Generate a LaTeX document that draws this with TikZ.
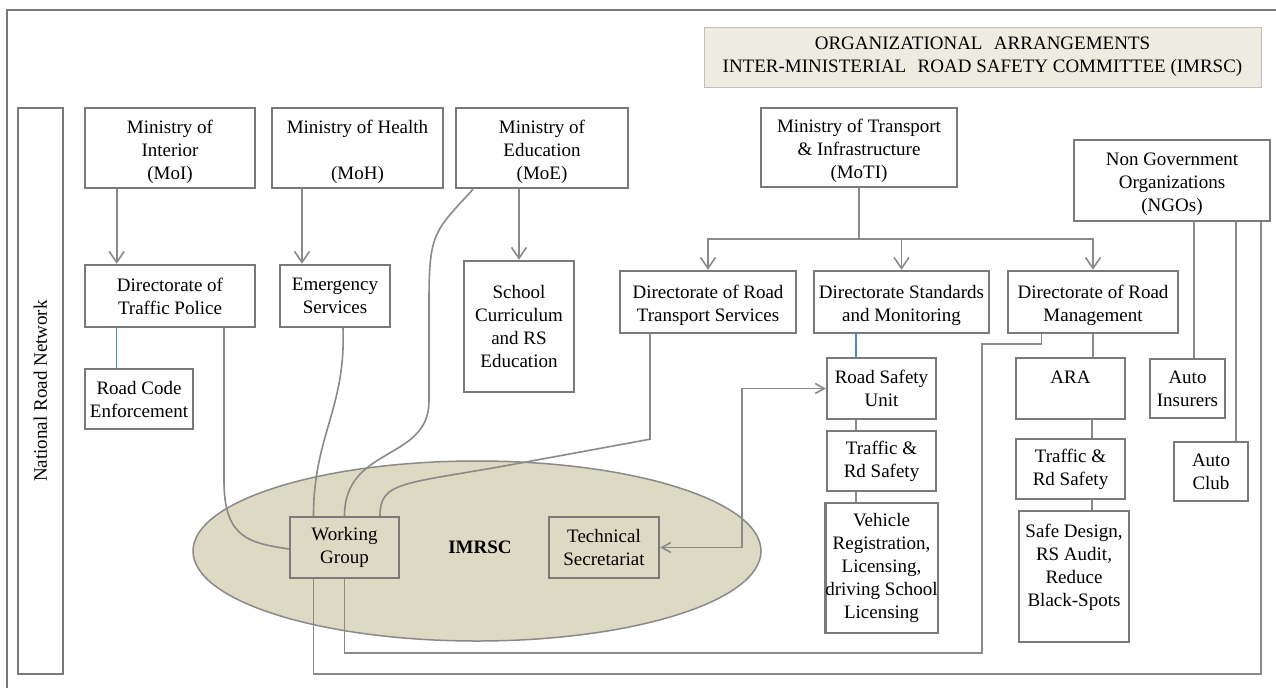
\documentclass[tikz,border=0pt]{standalone}
\usepackage{fontspec}
\setmainfont{Liberation Serif}
\usetikzlibrary{arrows.meta,shapes.geometric}
\definecolor{boxgray}{HTML}{7A7A7A}
\definecolor{linegray}{HTML}{8A8A8A}
\definecolor{beige}{HTML}{DDD9C3}
\definecolor{titlefill}{HTML}{EEECE1}
\definecolor{titleline}{HTML}{BFBFBF}
\definecolor{lineblue}{HTML}{4A86D0}
\newcommand{\diafont}{\fontsize{19}{23}\selectfont}
\newcommand{\lowr}{\rule{0pt}{21pt}}
\begin{document}
\begin{tikzpicture}[x=1pt,y=-1pt,
  box/.style={draw=boxgray, line width=2.4pt, fill=white, align=center, inner sep=0pt, font=\diafont},
  conn/.style={draw=linegray, line width=1.6pt},
  blueconn/.style={draw=lineblue, line width=1.5pt},
  arrowed/.style={-{Straight Barb[length=11pt,width=15pt]}},
  twoarrows/.style={{Straight Barb[length=9pt,width=10pt]}-{Straight Barb[length=9pt,width=10pt]}}]
\useasboundingbox (0,0) rectangle (1276,688);
\fill[white] (0,0) rectangle (1276,688);
% outer frame (left and top visible)
\draw[boxgray, line width=2pt] (7,688) -- (7,10) -- (1276,10);
% title
\node[box, draw=titleline, line width=1pt, fill=titlefill, minimum width=557pt, minimum height=60pt] (title) at (982.5,57)
  {ORGANIZATIONAL\hspace{0.6em}ARRANGEMENTS\\INTER-MINISTERIAL\hspace{0.6em}ROAD SAFETY COMMITTEE (IMRSC)};
% ellipse
\node[ellipse, draw=linegray, line width=1.5pt, fill=beige, minimum width=568pt, minimum height=180pt, inner sep=0pt] (ell) at (477,551) {};
\node[font=\diafont\bfseries] (imt) at (480,547) {IMRSC};
% national road network
\node[box, minimum width=45pt, minimum height=566pt] (nrn) at (40.5,391) {};
\node[rotate=90, font=\diafont] (nrnt) at (nrn.center) {National Road Network};
% ministries
\node[box, minimum width=170pt, minimum height=80pt] (moi) at (170,148) {\lowr Ministry of\\Interior\\(MoI)};
\node[box, minimum width=171pt, minimum height=80pt] (moh) at (357.5,148) {\lowr Ministry of Health\\[0pt]\mbox{}\\(MoH)};
\node[box, minimum width=172pt, minimum height=80pt] (moe) at (542,148) {\lowr Ministry of\\Education\\(MoE)};
\node[box, minimum width=196pt, minimum height=79pt] (moti) at (859,147.5) {\lowr Ministry of Transport\\\& Infrastructure\\(MoTI)};
\node[box, minimum width=196pt, minimum height=81pt] (ngo) at (1172,180.5) {\lowr Non Government\\Organizations\\(NGOs)};
% second level
\node[box, minimum width=170pt, minimum height=62pt] (dtp) at (170,296) {Directorate of\\Traffic Police};
\node[box, minimum width=110pt, minimum height=62pt] (ems) at (335,296) {Emergency\\Services};
\node[box, minimum width=110pt, minimum height=131pt] (school) at (519,326.5) {School\\Curriculum\\and RS\\Education};
\node[box, minimum width=176pt, minimum height=62pt] (drts) at (708,302) {\lowr Directorate of Road\\Transport Services};
\node[box, minimum width=175pt, minimum height=62pt] (dsm) at (901.5,302) {\lowr Directorate Standards\\and Monitoring};
\node[box, minimum width=170pt, minimum height=62pt] (drm) at (1093,302) {\lowr Directorate of Road\\Management};
% third level
\node[box, minimum width=108pt, minimum height=60pt] (rce) at (139,399) {Road Code\\Enforcement};
\node[box, minimum width=109pt, minimum height=61pt] (rsu) at (881.5,388.5) {Road Safety\\Unit};
\node[box, minimum width=109pt, minimum height=60pt] (trsa) at (881.5,461) {Traffic \&\\Rd Safety};
\node[box, minimum width=109pt, minimum height=130pt] (vrl) at (881.5,568) {Vehicle\\Registration,\\Licensing,\\driving School\\Licensing};
\node[box, minimum width=109pt, minimum height=61pt] (ara) at (1070.5,388.5) {ARA\\[0pt]\mbox{}};
\node[box, minimum width=109pt, minimum height=60pt] (trsb) at (1070.5,469) {Traffic \&\\Rd Safety};
\node[box, minimum width=110pt, minimum height=131pt] (sd) at (1074,576.5) {\fontsize{19}{22}\selectfont Safe Design,\\RS Audit,\\Reduce\\Black-Spots\\[0pt]\mbox{}};
\node[box, minimum width=75pt, minimum height=59pt] (ains) at (1187.5,388.5) {Auto\\Insurers};
\node[box, minimum width=74pt, minimum height=59pt] (aclub) at (1211,471.5) {Auto\\Club};
% IMRSC boxes
\node[box, fill=beige, minimum width=109pt, minimum height=61pt] (wg) at (344.5,547.5) {Working\\Group};
\node[box, fill=beige, minimum width=110pt, minimum height=61pt] (ts) at (604,547.5) {Technical\\Secretariat};
% ministry arrows
\draw[conn,arrowed] ([xshift=-53.3pt]moi.south) -- ([xshift=-53.3pt]dtp.north);
\draw[conn,arrowed] ([xshift=-55.5pt]moh.south) -- ([xshift=-55.5pt]moh.south |- ems.north);
\draw[conn,arrowed] ([xshift=-23pt]moe.south) -- (school.north);
\path (moti.south) ++(0,51) coordinate (br);
\draw[conn] (moti.south) -- (br);
\draw[conn,arrowed] (br) -| (drts.north);
\draw[conn,arrowed] (br) -| (dsm.north);
\draw[conn,arrowed] (br) -| (drm.north);
% blue links
\draw[blueconn] ([xshift=-53.3pt]dtp.south) -- ([xshift=-53.3pt]dtp.south |- rce.north);
\draw[blueconn] ([xshift=-45.5pt]dsm.south) -- ([xshift=-45.5pt]dsm.south |- rsu.north);
% chains
\draw[conn] ([xshift=-25.5pt]rsu.south) -- ([xshift=-25.5pt]trsa.north);
\draw[conn] ([xshift=-25.5pt]trsa.south) -- ([xshift=-25.5pt]vrl.north);
\draw[conn] (drm.south) -- (drm.south |- ara.north);
\draw[conn] ([xshift=21.5pt]ara.south) -- ([xshift=21.5pt]trsb.north);
\draw[conn] ([xshift=21.5pt]trsb.south) -- ([xshift=21.5pt]trsb.south |- sd.north);
\draw[conn] ([xshift=22pt]ngo.south) -- ([xshift=22pt]ngo.south |- ains.north);
\draw[conn] ([xshift=64pt]ngo.south) -- ([xshift=64pt]ngo.south |- aclub.north);
% links to working group
\draw[conn] ([xshift=89pt]ngo.south) -- ++(0,452) -| ([xshift=-31pt]wg.south);
\draw[conn] ([xshift=-51.4pt]drm.south) -- ++(0,10) -- ++(-59.6,0) -- ++(0,309) -| (wg.south);
\draw[conn] ([xshift=-58pt]drts.south) -- ++(0,105) -- ++(-136,25) .. controls +(-110,20) and +(0,-35) .. ([xshift=35.5pt]wg.north);
\draw[conn] ([xshift=54pt]dtp.south) -- ++(0,153) .. controls +(0,58) and +(-38,-6) .. ([yshift=-1.5pt]wg.west);
\draw[conn] ([xshift=8pt]ems.south) .. controls +(3,80) and +(0,-80) .. ([xshift=-31pt]wg.north);
\draw[conn] ([xshift=-69pt]moe.south) .. controls +(-38,42) and +(0,-70) .. ++(-44,112) -- ++(0,100) .. controls +(0,60) and +(0,-70) .. (wg.north);
% technical secretariat <-> road safety unit
\draw[conn,twoarrows] (ts.east) -| ([xshift=-84pt]rsu.west) -- (rsu.west);
\end{tikzpicture}
\end{document}
